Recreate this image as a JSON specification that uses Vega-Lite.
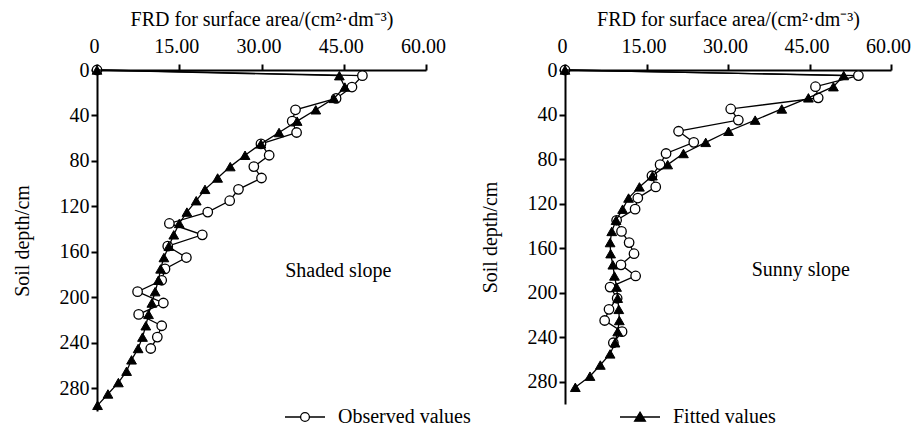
{
  "$schema": "https://vega.github.io/schema/vega-lite/v6.json",
  "background": "white",
  "padding": {"left": 12, "top": 9, "right": 0, "bottom": 0},
  "config": {
    "font": "Liberation Serif",
    "view": {"stroke": null},
    "axis": {"domainColor": "black", "domainWidth": 2, "tickColor": "black", "tickWidth": 2, "tickSize": 6, "labelColor": "black", "labelFont": "Liberation Serif", "labelFontSize": 20, "titleFont": "Liberation Serif", "titleFontSize": 20, "titleFontWeight": "normal", "titleColor": "black", "grid": false},
    "legend": {"labelFont": "Liberation Serif"},
    "concat": {"spacing": 34}
  },
  "datasets": {
    "d": [
      {"p": "Shaded", "s": "Observed values", "depth": 0, "frd": 0},
      {"p": "Shaded", "s": "Observed values", "depth": 5, "frd": 48.4},
      {"p": "Shaded", "s": "Observed values", "depth": 15, "frd": 46.5},
      {"p": "Shaded", "s": "Observed values", "depth": 25, "frd": 43.6},
      {"p": "Shaded", "s": "Observed values", "depth": 35, "frd": 36.2},
      {"p": "Shaded", "s": "Observed values", "depth": 45, "frd": 35.6},
      {"p": "Shaded", "s": "Observed values", "depth": 55, "frd": 36.4},
      {"p": "Shaded", "s": "Observed values", "depth": 65, "frd": 29.9},
      {"p": "Shaded", "s": "Observed values", "depth": 75, "frd": 31.4},
      {"p": "Shaded", "s": "Observed values", "depth": 85, "frd": 28.6},
      {"p": "Shaded", "s": "Observed values", "depth": 95, "frd": 30.0},
      {"p": "Shaded", "s": "Observed values", "depth": 105, "frd": 25.8},
      {"p": "Shaded", "s": "Observed values", "depth": 115, "frd": 24.2},
      {"p": "Shaded", "s": "Observed values", "depth": 125, "frd": 20.2},
      {"p": "Shaded", "s": "Observed values", "depth": 135, "frd": 13.2},
      {"p": "Shaded", "s": "Observed values", "depth": 145, "frd": 19.2},
      {"p": "Shaded", "s": "Observed values", "depth": 155, "frd": 12.9},
      {"p": "Shaded", "s": "Observed values", "depth": 165, "frd": 16.3},
      {"p": "Shaded", "s": "Observed values", "depth": 175, "frd": 12.4},
      {"p": "Shaded", "s": "Observed values", "depth": 185, "frd": 11.8},
      {"p": "Shaded", "s": "Observed values", "depth": 195, "frd": 7.4},
      {"p": "Shaded", "s": "Observed values", "depth": 205, "frd": 12.1},
      {"p": "Shaded", "s": "Observed values", "depth": 215, "frd": 7.6},
      {"p": "Shaded", "s": "Observed values", "depth": 225, "frd": 11.8},
      {"p": "Shaded", "s": "Observed values", "depth": 235, "frd": 11.0},
      {"p": "Shaded", "s": "Observed values", "depth": 245, "frd": 9.8},
      {"p": "Shaded", "s": "Fitted values", "depth": 0, "frd": 0},
      {"p": "Shaded", "s": "Fitted values", "depth": 5, "frd": 44.2},
      {"p": "Shaded", "s": "Fitted values", "depth": 15, "frd": 45.2},
      {"p": "Shaded", "s": "Fitted values", "depth": 25, "frd": 43.2},
      {"p": "Shaded", "s": "Fitted values", "depth": 35, "frd": 39.9},
      {"p": "Shaded", "s": "Fitted values", "depth": 45, "frd": 36.5},
      {"p": "Shaded", "s": "Fitted values", "depth": 55, "frd": 33.2},
      {"p": "Shaded", "s": "Fitted values", "depth": 65, "frd": 29.9},
      {"p": "Shaded", "s": "Fitted values", "depth": 75, "frd": 27.0},
      {"p": "Shaded", "s": "Fitted values", "depth": 85, "frd": 24.3},
      {"p": "Shaded", "s": "Fitted values", "depth": 95, "frd": 22.0},
      {"p": "Shaded", "s": "Fitted values", "depth": 105, "frd": 19.7},
      {"p": "Shaded", "s": "Fitted values", "depth": 115, "frd": 18.1},
      {"p": "Shaded", "s": "Fitted values", "depth": 125, "frd": 16.4},
      {"p": "Shaded", "s": "Fitted values", "depth": 135, "frd": 15.0},
      {"p": "Shaded", "s": "Fitted values", "depth": 145, "frd": 14.0},
      {"p": "Shaded", "s": "Fitted values", "depth": 155, "frd": 13.1},
      {"p": "Shaded", "s": "Fitted values", "depth": 165, "frd": 12.2},
      {"p": "Shaded", "s": "Fitted values", "depth": 175, "frd": 11.6},
      {"p": "Shaded", "s": "Fitted values", "depth": 185, "frd": 11.2},
      {"p": "Shaded", "s": "Fitted values", "depth": 195, "frd": 10.6},
      {"p": "Shaded", "s": "Fitted values", "depth": 205, "frd": 10.0},
      {"p": "Shaded", "s": "Fitted values", "depth": 215, "frd": 9.4},
      {"p": "Shaded", "s": "Fitted values", "depth": 225, "frd": 8.9},
      {"p": "Shaded", "s": "Fitted values", "depth": 235, "frd": 8.3},
      {"p": "Shaded", "s": "Fitted values", "depth": 245, "frd": 7.5},
      {"p": "Shaded", "s": "Fitted values", "depth": 255, "frd": 6.3},
      {"p": "Shaded", "s": "Fitted values", "depth": 265, "frd": 5.4},
      {"p": "Shaded", "s": "Fitted values", "depth": 275, "frd": 3.9},
      {"p": "Shaded", "s": "Fitted values", "depth": 285, "frd": 2.0},
      {"p": "Shaded", "s": "Fitted values", "depth": 295, "frd": 0.1},
      {"p": "Sunny", "s": "Observed values", "depth": 0, "frd": 0},
      {"p": "Sunny", "s": "Observed values", "depth": 5, "frd": 54.0},
      {"p": "Sunny", "s": "Observed values", "depth": 15, "frd": 46.1},
      {"p": "Sunny", "s": "Observed values", "depth": 25, "frd": 46.6},
      {"p": "Sunny", "s": "Observed values", "depth": 35, "frd": 30.5},
      {"p": "Sunny", "s": "Observed values", "depth": 45, "frd": 31.9},
      {"p": "Sunny", "s": "Observed values", "depth": 55, "frd": 20.9},
      {"p": "Sunny", "s": "Observed values", "depth": 65, "frd": 23.7},
      {"p": "Sunny", "s": "Observed values", "depth": 75, "frd": 18.6},
      {"p": "Sunny", "s": "Observed values", "depth": 85, "frd": 17.5},
      {"p": "Sunny", "s": "Observed values", "depth": 95, "frd": 16.0},
      {"p": "Sunny", "s": "Observed values", "depth": 105, "frd": 16.7},
      {"p": "Sunny", "s": "Observed values", "depth": 115, "frd": 13.4},
      {"p": "Sunny", "s": "Observed values", "depth": 125, "frd": 12.9},
      {"p": "Sunny", "s": "Observed values", "depth": 135, "frd": 9.5},
      {"p": "Sunny", "s": "Observed values", "depth": 145, "frd": 10.4},
      {"p": "Sunny", "s": "Observed values", "depth": 155, "frd": 11.8},
      {"p": "Sunny", "s": "Observed values", "depth": 165, "frd": 12.7},
      {"p": "Sunny", "s": "Observed values", "depth": 175, "frd": 10.3},
      {"p": "Sunny", "s": "Observed values", "depth": 185, "frd": 13.0},
      {"p": "Sunny", "s": "Observed values", "depth": 195, "frd": 8.3},
      {"p": "Sunny", "s": "Observed values", "depth": 205, "frd": 9.6},
      {"p": "Sunny", "s": "Observed values", "depth": 215, "frd": 8.1},
      {"p": "Sunny", "s": "Observed values", "depth": 225, "frd": 7.3},
      {"p": "Sunny", "s": "Observed values", "depth": 235, "frd": 10.5},
      {"p": "Sunny", "s": "Observed values", "depth": 245, "frd": 8.9},
      {"p": "Sunny", "s": "Fitted values", "depth": 0, "frd": 0},
      {"p": "Sunny", "s": "Fitted values", "depth": 5, "frd": 51.3},
      {"p": "Sunny", "s": "Fitted values", "depth": 15, "frd": 49.4},
      {"p": "Sunny", "s": "Fitted values", "depth": 25, "frd": 44.8},
      {"p": "Sunny", "s": "Fitted values", "depth": 35, "frd": 39.9},
      {"p": "Sunny", "s": "Fitted values", "depth": 45, "frd": 35.0},
      {"p": "Sunny", "s": "Fitted values", "depth": 55, "frd": 30.1},
      {"p": "Sunny", "s": "Fitted values", "depth": 65, "frd": 25.9},
      {"p": "Sunny", "s": "Fitted values", "depth": 75, "frd": 21.8},
      {"p": "Sunny", "s": "Fitted values", "depth": 85, "frd": 18.9},
      {"p": "Sunny", "s": "Fitted values", "depth": 95, "frd": 16.1},
      {"p": "Sunny", "s": "Fitted values", "depth": 105, "frd": 13.7},
      {"p": "Sunny", "s": "Fitted values", "depth": 115, "frd": 11.7},
      {"p": "Sunny", "s": "Fitted values", "depth": 125, "frd": 10.6},
      {"p": "Sunny", "s": "Fitted values", "depth": 135, "frd": 9.4},
      {"p": "Sunny", "s": "Fitted values", "depth": 145, "frd": 8.6},
      {"p": "Sunny", "s": "Fitted values", "depth": 155, "frd": 8.3},
      {"p": "Sunny", "s": "Fitted values", "depth": 165, "frd": 8.4},
      {"p": "Sunny", "s": "Fitted values", "depth": 175, "frd": 8.8},
      {"p": "Sunny", "s": "Fitted values", "depth": 185, "frd": 9.1},
      {"p": "Sunny", "s": "Fitted values", "depth": 195, "frd": 9.5},
      {"p": "Sunny", "s": "Fitted values", "depth": 205, "frd": 9.7},
      {"p": "Sunny", "s": "Fitted values", "depth": 215, "frd": 9.9},
      {"p": "Sunny", "s": "Fitted values", "depth": 225, "frd": 10.0},
      {"p": "Sunny", "s": "Fitted values", "depth": 235, "frd": 9.7},
      {"p": "Sunny", "s": "Fitted values", "depth": 245, "frd": 9.2},
      {"p": "Sunny", "s": "Fitted values", "depth": 255, "frd": 8.3},
      {"p": "Sunny", "s": "Fitted values", "depth": 265, "frd": 6.5},
      {"p": "Sunny", "s": "Fitted values", "depth": 275, "frd": 4.6},
      {"p": "Sunny", "s": "Fitted values", "depth": 285, "frd": 1.9}
    ],
    "labels": [
      {"p": "Shaded", "label": "Shaded slope"},
      {"p": "Sunny", "label": "Sunny slope"}
    ]
  },
  "hconcat": [
    {
      "width": 329,
      "height": 341,
      "layer": [
        {"data": {"name": "d"}, "transform": [{"filter": "datum.p === 'Shaded' && datum.s === 'Observed values'"}], "mark": {"type": "line", "color": "black", "strokeWidth": 1.3},
          "encoding": {
            "x": {"field": "frd", "type": "quantitative", "scale": {"domain": [0, 60], "nice": false, "zero": false},
              "axis": {"orient": "top", "values": [0, 15, 30, 45, 60], "labelExpr": "datum.value === 0 ? '0' : format(datum.value, '.2f')", "title": "FRD for surface area/(cm²·dm⁻³)", "labelPadding": 8, "titlePadding": 7, "labelFlush": false, "labelOverlap": false, "labelOffset": -3}},
            "y": {"field": "depth", "type": "quantitative", "scale": {"domain": [0, 300], "nice": false, "reverse": true},
              "axis": {"values": [0, 20, 40, 60, 80, 100, 120, 140, 160, 180, 200, 220, 240, 260, 280, 300], "title": "Soil depth/cm", "labelPadding": 2, "titlePadding": 27, "labelFlush": false, "labelOverlap": false}},
            "order": {"field": "depth"}}},
        {"data": {"name": "d"}, "transform": [{"filter": "datum.p === 'Shaded' && datum.s === 'Observed values'"}], "mark": {"type": "point", "shape": "circle", "filled": true, "fill": "white", "size": 90, "stroke": "black", "strokeWidth": 1.3, "opacity": 1},
          "encoding": {"x": {"field": "frd", "type": "quantitative"}, "y": {"field": "depth", "type": "quantitative"}}},
        {"data": {"name": "d"}, "transform": [{"filter": "datum.p === 'Shaded' && datum.s === 'Fitted values'"}], "mark": {"type": "line", "color": "black", "strokeWidth": 1.3},
          "encoding": {"x": {"field": "frd", "type": "quantitative"}, "y": {"field": "depth", "type": "quantitative"}, "order": {"field": "depth"}}},
        {"data": {"name": "d"}, "transform": [{"filter": "datum.p === 'Shaded' && datum.s === 'Fitted values'"}], "mark": {"type": "point", "shape": "triangle-up", "filled": true, "fill": "black", "size": 95, "stroke": "black", "strokeWidth": 1, "opacity": 1},
          "encoding": {"x": {"field": "frd", "type": "quantitative"}, "y": {"field": "depth", "type": "quantitative"}}},
        {"data": {"name": "d"}, "transform": [{"filter": "datum.p === 'Shaded' && datum.depth === 0"}], "mark": {"type": "point", "filled": true, "opacity": 0, "strokeWidth": 1.3},
          "encoding": {
            "x": {"field": "frd", "type": "quantitative"}, "y": {"field": "depth", "type": "quantitative"},
            "shape": {"field": "s", "type": "nominal", "scale": {"domain": ["Observed values", "Fitted values"], "range": ["M-1,0H-0.22M0.22,0H1M-0.22,0A0.22,0.22 0 1,1 0.22,0A0.22,0.22 0 1,1 -0.22,0", "M-1,0H1M0,-0.24L0.27,0.21L-0.27,0.21Z"]},
              "legend": {"title": null, "orient": "none", "legendX": 187, "legendY": 326, "direction": "horizontal", "columnPadding": 146, "symbolSize": 1600, "symbolOpacity": 1, "symbolStrokeWidth": 1.3, "symbolStrokeColor": "black", "labelFontSize": 20, "labelColor": "black", "labelFont": "Liberation Serif", "labelOffset": 12}},
            "fill": {"field": "s", "type": "nominal", "scale": {"domain": ["Observed values", "Fitted values"], "range": ["white", "black"]}},
            "stroke": {"field": "s", "type": "nominal", "scale": {"domain": ["Observed values", "Fitted values"], "range": ["black", "black"]}}
          }},
        {"data": {"name": "labels"}, "transform": [{"filter": "datum.p === 'Shaded'"}], "mark": {"type": "text", "fontSize": 20, "font": "Liberation Serif", "color": "black"},
          "encoding": {"x": {"datum": 44}, "y": {"datum": 177}, "text": {"field": "label"}}}
      ]
    },
    {
      "width": 326,
      "height": 334,
      "layer": [
        {"data": {"name": "d"}, "transform": [{"filter": "datum.p === 'Sunny' && datum.s === 'Observed values'"}], "mark": {"type": "line", "color": "black", "strokeWidth": 1.3},
          "encoding": {
            "x": {"field": "frd", "type": "quantitative", "scale": {"domain": [0, 60], "nice": false, "zero": false},
              "axis": {"orient": "top", "values": [0, 15, 30, 45, 60], "labelExpr": "datum.value === 0 ? '0' : format(datum.value, '.2f')", "title": "FRD for surface area/(cm²·dm⁻³)", "labelPadding": 8, "titlePadding": 7, "labelFlush": false, "labelOverlap": false, "labelOffset": -3}},
            "y": {"field": "depth", "type": "quantitative", "scale": {"domain": [0, 300], "nice": false, "reverse": true},
              "axis": {"values": [0, 20, 40, 60, 80, 100, 120, 140, 160, 180, 200, 220, 240, 260, 280, 300], "title": "Soil depth/cm", "labelPadding": 2, "titlePadding": 27, "labelFlush": false, "labelOverlap": false}},
            "order": {"field": "depth"}}},
        {"data": {"name": "d"}, "transform": [{"filter": "datum.p === 'Sunny' && datum.s === 'Observed values'"}], "mark": {"type": "point", "shape": "circle", "filled": true, "fill": "white", "size": 90, "stroke": "black", "strokeWidth": 1.3, "opacity": 1},
          "encoding": {"x": {"field": "frd", "type": "quantitative"}, "y": {"field": "depth", "type": "quantitative"}}},
        {"data": {"name": "d"}, "transform": [{"filter": "datum.p === 'Sunny' && datum.s === 'Fitted values'"}], "mark": {"type": "line", "color": "black", "strokeWidth": 1.3},
          "encoding": {"x": {"field": "frd", "type": "quantitative"}, "y": {"field": "depth", "type": "quantitative"}, "order": {"field": "depth"}}},
        {"data": {"name": "d"}, "transform": [{"filter": "datum.p === 'Sunny' && datum.s === 'Fitted values'"}], "mark": {"type": "point", "shape": "triangle-up", "filled": true, "fill": "black", "size": 95, "stroke": "black", "strokeWidth": 1, "opacity": 1},
          "encoding": {"x": {"field": "frd", "type": "quantitative"}, "y": {"field": "depth", "type": "quantitative"}}},
        {"data": {"name": "labels"}, "transform": [{"filter": "datum.p === 'Sunny'"}], "mark": {"type": "text", "fontSize": 20, "font": "Liberation Serif", "color": "black"},
          "encoding": {"x": {"datum": 43.4}, "y": {"datum": 180}, "text": {"field": "label"}}}
      ]
    }
  ]
}
